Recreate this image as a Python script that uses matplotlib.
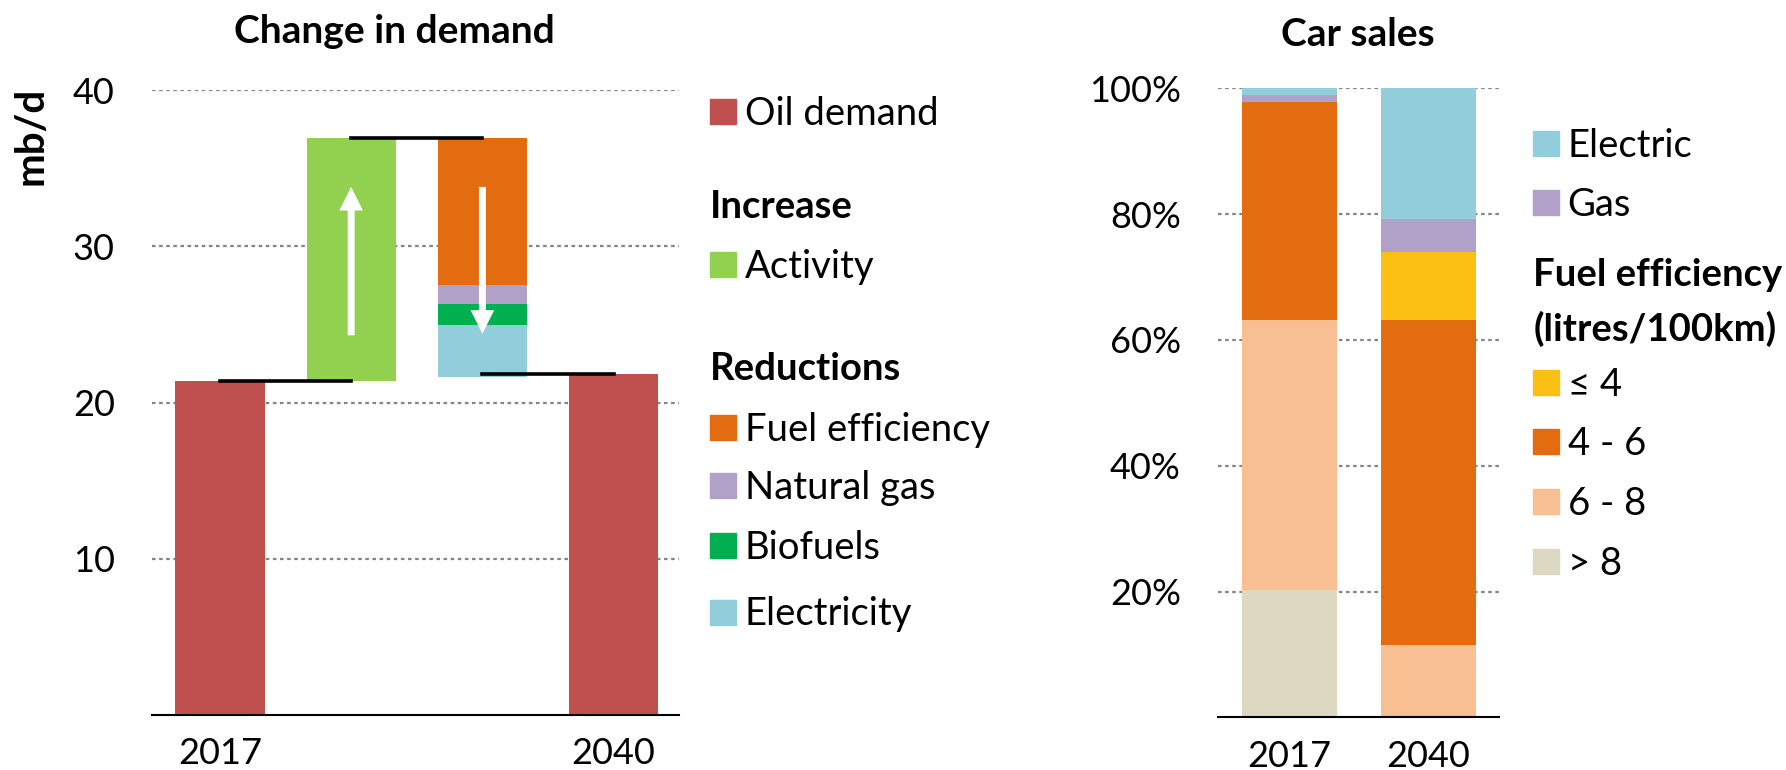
import matplotlib
matplotlib.use("Agg")
import matplotlib.pyplot as plt
from matplotlib.patches import Rectangle
import numpy as np

plt.rcParams['font.family'] = ['Lato', 'DejaVu Sans']

# ---- Change in demand (mb/d) ----
demand_years = ['2017', '2040']
oil_demand = [21.4, 21.8]
activity = 15.5
reduction_labels = ['Fuel efficiency', 'Natural gas', 'Biofuels', 'Electricity']
reduction_values = [9.4, 1.2, 1.35, 3.3]

# ---- Car sales (%) ----
car_years = ['2017', '2040']
sales_labels = ['> 8', '6 - 8', '4 - 6', '\u2264 4', 'Gas', 'Electric']
sales_gt8 = [20.2, 0.0]
sales_6_8 = [43.0, 11.5]
sales_4_6 = [34.6, 51.7]
sales_le4 = [0.0, 10.7]
sales_gas = [1.1, 5.4]
sales_electric = [1.1, 20.7]

# colours
c_oil = '#C0504D'
c_activity = '#92D050'
c_fuel = '#E36C10'
c_gas = '#B1A0C7'
c_bio = '#00B050'
c_elec = '#92CDDC'
c_le4 = '#FCBF14'
c_68 = '#F7BF92'
c_gt8 = '#DDD8C2'
reduction_colors = [c_fuel, c_gas, c_bio, c_elec]
sales_colors = [c_gt8, c_68, c_fuel, c_le4, c_gas, c_elec]

W, H = 1786, 770
fig = plt.figure(figsize=(W / 100, H / 100), dpi=100)


def fx(px):
    return px / W


def fy(py):
    return 1 - py / H


grid_kw = dict(color='#858585', linestyle=(0, (1.6, 1.6)), linewidth=1.6)


def style_axis(ax):
    for s in ['left', 'right', 'top']:
        ax.spines[s].set_visible(False)
    ax.spines['bottom'].set_color('black')
    ax.spines['bottom'].set_linewidth(1.5)
    ax.set_axisbelow(True)
    ax.yaxis.grid(True, **grid_kw)
    ax.tick_params(length=0, labelsize=26)
    ax.tick_params(axis='y', pad=27)
    ax.tick_params(axis='x', pad=16)


# ---------- left chart ----------
ax1 = fig.add_axes([fx(152.3), fy(715), fx(679.3 - 152.3), (715 - 90) / H])
style_axis(ax1)
bw = 0.68
ax1.bar(0, oil_demand[0], width=bw, color=c_oil, zorder=2)
ax1.bar(3, oil_demand[1], width=bw, color=c_oil, zorder=2)
ax1.bar(1, activity, bottom=oil_demand[0], width=bw, color=c_activity, zorder=2)
top = oil_demand[0] + activity
for val, col in zip(reduction_values, reduction_colors):
    top -= val
    ax1.bar(2, val, bottom=top, width=bw, color=col, zorder=2)

peak = oil_demand[0] + activity
ax1.plot([0, 1], [oil_demand[0]] * 2, color='black', lw=2.6, zorder=3)
ax1.plot([1, 2], [peak] * 2, color='black', lw=2.6, zorder=3)
ax1.plot([2, 3], [oil_demand[1]] * 2, color='black', lw=2.6, zorder=3)

arrow_kw = dict(facecolor='white', edgecolor='none', width=5, headwidth=17,
                headlength=17, shrink=0)
ax1.annotate('', xy=(1, 33.8), xytext=(1, 24.3), arrowprops=arrow_kw, zorder=4)
ax1.annotate('', xy=(2, 24.4), xytext=(2, 33.8), arrowprops=arrow_kw, zorder=4)

ax1.set_xlim(-0.515, 3.5)
ax1.set_ylim(0, 40)
ax1.set_yticks([10, 20, 30, 40])
ax1.set_xticks([0, 3])
ax1.set_xticklabels(demand_years)

fig.text(fx(394), fy(43), 'Change in demand', ha='center', va='baseline',
         fontsize=28, fontweight='bold')
fig.text(fx(31), fy(136), 'mb/d', rotation=90, ha='center', va='center',
         fontsize=29, fontweight='bold')

# ---------- right chart ----------
ax2 = fig.add_axes([fx(1218.3), fy(717.3), fx(1499.3 - 1218.3), (717.3 - 88.3) / H])
style_axis(ax2)
xs = np.arange(len(car_years))
bottom = np.zeros(len(car_years))
for vals, col in zip([sales_gt8, sales_6_8, sales_4_6, sales_le4, sales_gas, sales_electric],
                     sales_colors):
    ax2.bar(xs, vals, bottom=bottom, width=bw, color=col, zorder=2)
    bottom += np.array(vals)
ax2.set_xlim(-0.51, 1.51)
ax2.set_ylim(0, 100)
ax2.set_yticks([20, 40, 60, 80, 100])
ax2.set_yticklabels([f'{v}%' for v in [20, 40, 60, 80, 100]])
ax2.set_xticks(xs)
ax2.set_xticklabels(car_years)

fig.text(fx(1357.5), fy(46.5), 'Car sales', ha='center', va='baseline',
         fontsize=28, fontweight='bold')

# ---------- legends ----------
sq_w, sq_h, cap = 26, 25, 13.5
leg_fs = 27.5


def legend_item(x, yc, color, label):
    fig.patches.append(Rectangle((fx(x), fy(yc + sq_h / 2)), sq_w / W, sq_h / H,
                                 transform=fig.transFigure, color=color))
    fig.text(fx(x + sq_w + 9), fy(yc + cap), label, ha='left', va='baseline',
             fontsize=leg_fs)


def legend_header(x, baseline, label):
    fig.text(fx(x), fy(baseline), label, ha='left', va='baseline', fontsize=leg_fs,
             fontweight='bold')


legend_item(710, 111.7, c_oil, 'Oil demand')
legend_header(710, 204.5 + cap, 'Increase')
legend_item(710, 264.7, c_activity, 'Activity')
legend_header(710, 366.2 + cap, 'Reductions')
for lab, col, yc in zip(reduction_labels, reduction_colors, [427.4, 485.8, 545.1, 612]):
    legend_item(710, yc, col, lab)

legend_item(1532.5, 143.5, c_elec, sales_labels[5])
legend_item(1532.5, 202.5, c_gas, sales_labels[4])
legend_header(1533.3, 286, 'Fuel efficiency')
legend_header(1533.3, 341, '(litres/100km)')
for lab, col, yc in zip(sales_labels[3::-1], sales_colors[3::-1], [382.5, 441.5, 501.3, 561.7]):
    legend_item(1532.5, yc, col, lab)

fig.savefig('out.png', dpi=100)
